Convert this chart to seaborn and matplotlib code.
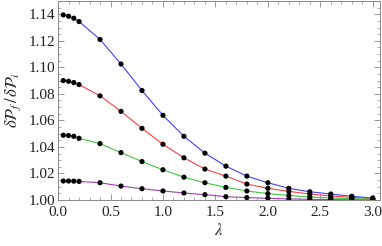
import matplotlib
matplotlib.use("Agg")
import matplotlib.pyplot as plt
from matplotlib.ticker import MultipleLocator
import seaborn as sns
import pandas as pd

# Data
lam = [0.05, 0.1, 0.15, 0.2, 0.4, 0.6, 0.8, 1.0, 1.2, 1.4,
       1.6, 1.8, 2.0, 2.2, 2.4, 2.6, 2.8, 3.0]
blue = [1.1395, 1.1385, 1.137, 1.1345, 1.121, 1.1025, 1.0825, 1.0638, 1.048, 1.0353,
        1.0255, 1.018, 1.013, 1.0088, 1.0062, 1.0045, 1.0028, 1.0015]
red = [1.090, 1.0895, 1.0885, 1.087, 1.0785, 1.0668, 1.054, 1.042, 1.0318, 1.0233,
       1.018, 1.012, 1.0088, 1.0065, 1.0045, 1.003, 1.002, 1.001]
green = [1.0488, 1.0486, 1.048, 1.0465, 1.0425, 1.0357, 1.029, 1.0228, 1.0172, 1.013,
         1.0095, 1.0068, 1.0048, 1.0034, 1.0023, 1.0015, 1.001, 1.0007]
purple = [1.0143, 1.0143, 1.0142, 1.014, 1.013, 1.0105, 1.0085, 1.0068, 1.0053, 1.004,
          1.0025, 1.0018, 1.0013, 1.0008, 1.0005, 1.0003, 1.0002, 1.0001]
yticks = [1.00, 1.02, 1.04, 1.06, 1.08, 1.10, 1.12, 1.14]
ytick_labels = ["1.00", "1.02", "1.04", "1.06", "1.08", "1.10", "1.12", "1.14"]

series = {"blue": blue, "red": red, "green": green, "purple": purple}
df = pd.DataFrame([(k, x, y) for k, ys in series.items() for x, y in zip(lam, ys)],
                  columns=["curve", "lam", "ratio"])

palette = {"blue": "#4040ff", "red": "#ff4040", "green": "#40c840", "purple": "#a040b0"}

sns.set_theme(style="ticks")
plt.rcParams["font.family"] = ["Liberation Serif", "DejaVu Serif"]
plt.rcParams["mathtext.fontset"] = "stix"

fig = plt.figure(figsize=(3.82, 2.46), dpi=100)
ax = fig.add_axes([0.152, 0.187, 0.843, 0.809])

sns.lineplot(data=df, x="lam", y="ratio", hue="curve", palette=palette,
             linewidth=0.8, legend=False, ax=ax)
sns.scatterplot(data=df, x="lam", y="ratio", color="black", s=14,
                edgecolor="none", legend=False, ax=ax, zorder=3)

ax.set_xlim(0, 3.07)
ax.set_ylim(1.0, 1.15)
ax.xaxis.set_major_locator(MultipleLocator(0.5))
ax.xaxis.set_minor_locator(MultipleLocator(0.1))
ax.yaxis.set_minor_locator(MultipleLocator(0.005))
ax.set_yticks(yticks)
ax.set_yticklabels(ytick_labels)

ax.tick_params(which="both", direction="in", top=True, right=True,
               color="#888888", labelsize=11, labelcolor="#222222")
ax.tick_params(axis="x", pad=4)
ax.tick_params(axis="y", pad=2)
ax.tick_params(which="major", length=4, width=0.6)
ax.tick_params(which="minor", length=2, width=0.5)
for sp in ax.spines.values():
    sp.set_color("#888888")
    sp.set_linewidth(0.7)

ax.set_xlabel(r"$\lambda$", fontsize=12, labelpad=3)
ax.set_ylabel(r"$\delta\mathcal{P}_f\,/\,\delta\mathcal{P}_i$", fontsize=12, labelpad=4)

fig.savefig("out.png", dpi=100)
